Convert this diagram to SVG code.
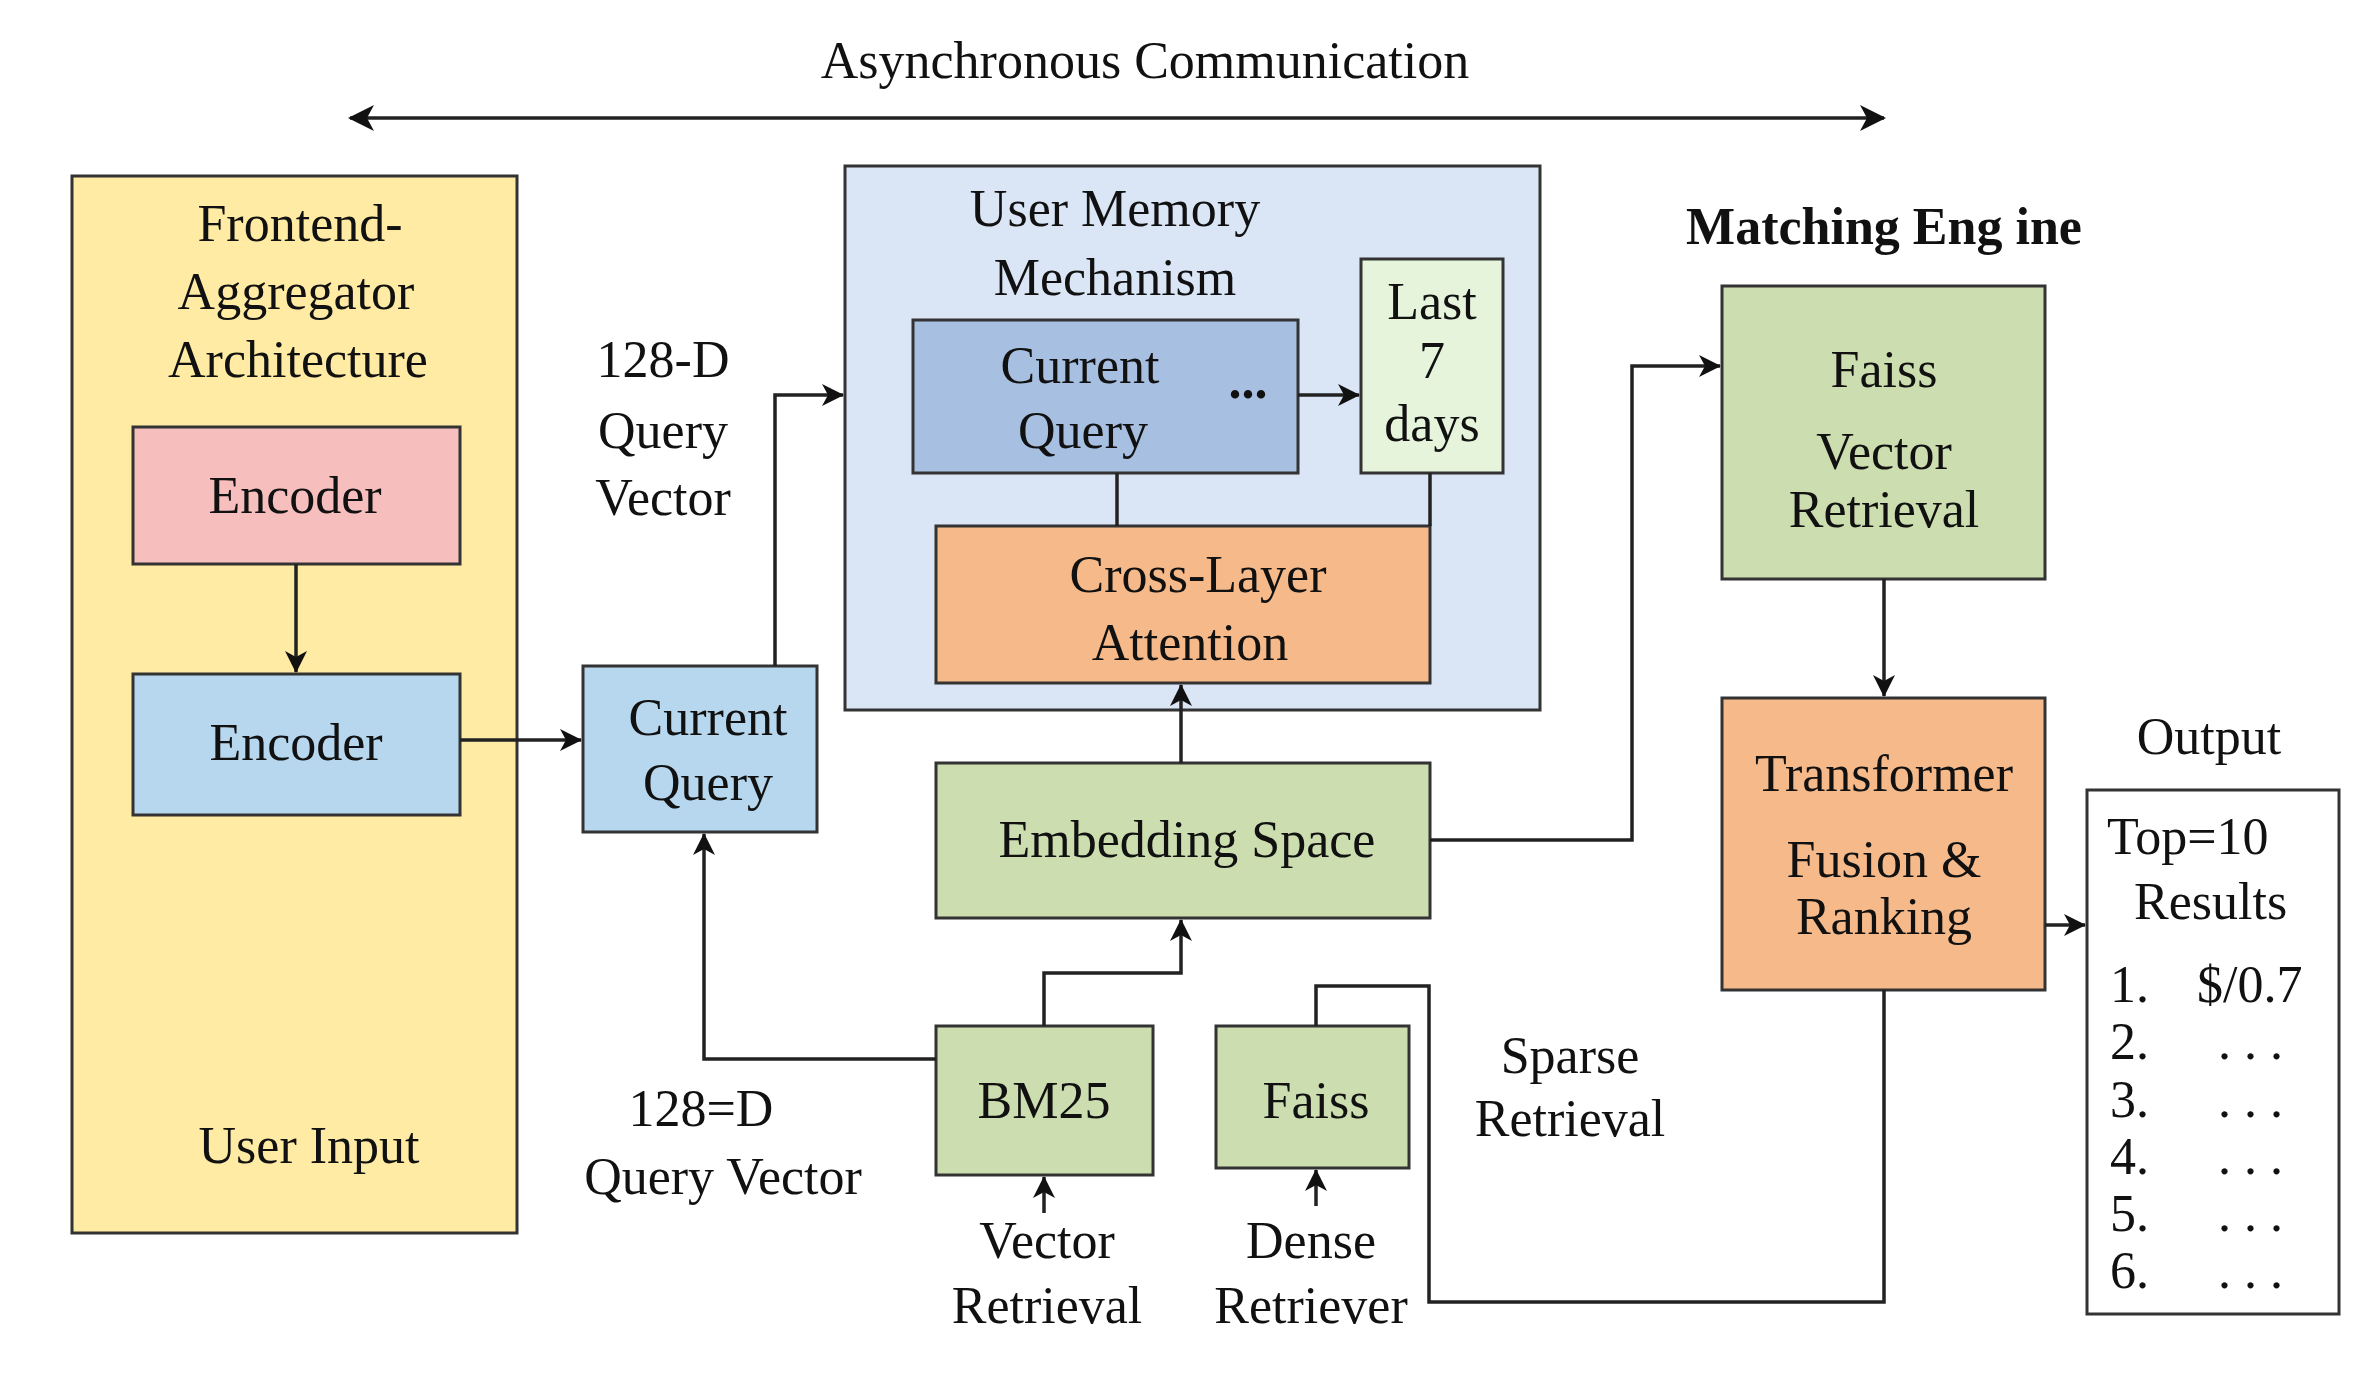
<svg xmlns="http://www.w3.org/2000/svg" width="2363" height="1374" viewBox="0 0 2363 1374">
<defs>
<marker id="ah" markerWidth="10" markerHeight="10" refX="9" refY="5" orient="auto" markerUnits="userSpaceOnUse" viewBox="0 0 10 10"><path d="M0,0 L10,5 L0,10 L3,5 z" fill="#111"/></marker>
<marker id="ab" markerWidth="26" markerHeight="26" refX="24" refY="13" orient="auto-start-reverse" markerUnits="userSpaceOnUse" viewBox="0 0 26 26"><path d="M0,0 L26,13 L0,26 L7,13 z" fill="#111"/></marker>
<marker id="am" markerWidth="22" markerHeight="22" refX="21" refY="11" orient="auto" markerUnits="userSpaceOnUse" viewBox="0 0 22 22"><path d="M0,0 L22,11 L0,22 L6,11 z" fill="#111"/></marker>
</defs>
<style>
text{font-family:"Liberation Serif","Times New Roman",serif;fill:#111;font-size:52px;text-anchor:middle}
.b{stroke:#333;stroke-width:3}
.c{fill:none;stroke:#222;stroke-width:3.5}
</style>
<rect width="2363" height="1374" fill="#fff"/>
<g id="title"><text x="1145" y="78" font-size="54">Asynchronous Communication</text></g>
<g id="frontend">
<rect class="b" x="72" y="176" width="445" height="1057" fill="#FFEBA3"/>
<text x="300" y="241">Frontend-</text><text x="296" y="309">Aggregator</text><text x="298" y="377">Architecture</text>
<text x="309" y="1163">User Input</text>
</g>
<g id="encoder1"><rect class="b" x="133" y="427" width="327" height="137" fill="#F7BEBE"/><text x="295" y="513">Encoder</text></g>
<g id="encoder2"><rect class="b" x="133" y="674" width="327" height="141" fill="#B7D7EE"/><text x="296" y="760">Encoder</text></g>
<g id="currentQuery"><rect class="b" x="583" y="666" width="234" height="166" fill="#B7D7EE"/><text x="708" y="735">Current</text><text x="708" y="800">Query</text></g>
<g id="labels">
<text x="663" y="377">128-D</text><text x="663" y="448">Query</text><text x="663" y="515">Vector</text>
<text x="701" y="1126">128=D</text><text x="723" y="1194">Query Vector</text>
<text x="1047" y="1258">Vector</text><text x="1047" y="1323">Retrieval</text>
<text x="1311" y="1258">Dense</text><text x="1311" y="1323">Retriever</text>
<text x="1570" y="1073">Sparse</text><text x="1570" y="1136">Retrieval</text>
<text x="1884" y="244" font-weight="bold">Matching Eng ine</text>
<text x="2209" y="754">Output</text>
</g>
<g id="userMemory">
<rect class="b" x="845" y="166" width="695" height="544" fill="#DAE5F5"/>
<text x="1115" y="226">User Memory</text><text x="1115" y="295">Mechanism</text>
</g>
<g id="memCurrentQuery"><rect class="b" x="913" y="320" width="385" height="153" fill="#A7BFE0"/><text x="1080" y="383">Current</text><text x="1083" y="448">Query</text><text x="1248" y="398" font-weight="bold">...</text></g>
<g id="last7"><rect class="b" x="1361" y="259" width="142" height="214" fill="#E6F4DC"/><text x="1432" y="319" font-size="46">Last</text><text x="1432" y="378" font-size="46">7</text><text x="1432" y="441" font-size="46">days</text></g>
<g id="crossLayer"><rect class="b" x="936" y="526" width="494" height="157" fill="#F5B98A"/><text x="1198" y="592">Cross-Layer</text><text x="1190" y="660">Attention</text></g>
<g id="embedding"><rect class="b" x="936" y="763" width="494" height="155" fill="#CCDDAF"/><text x="1187" y="857">Embedding Space</text></g>
<g id="bm25"><rect class="b" x="936" y="1026" width="217" height="149" fill="#CCDDAF"/><text x="1044" y="1118">BM25</text></g>
<g id="faissSmall"><rect class="b" x="1216" y="1026" width="193" height="142" fill="#CCDDAF"/><text x="1316" y="1118">Faiss</text></g>
<g id="faissVR"><rect class="b" x="1722" y="286" width="323" height="293" fill="#CCDDAF"/><text x="1884" y="387">Faiss</text><text x="1884" y="469">Vector</text><text x="1884" y="527">Retrieval</text></g>
<g id="transformer"><rect class="b" x="1722" y="698" width="323" height="292" fill="#F5B98A"/><text x="1884" y="791">Transformer</text><text x="1884" y="877">Fusion &amp;</text><text x="1884" y="934">Ranking</text></g>
<g id="output">
<rect class="b" x="2087" y="790" width="252" height="524" fill="#fff"/>
<text x="2107" y="854" style="text-anchor:start">Top=10</text><text x="2134" y="919" style="text-anchor:start">Results</text>
<g style="text-anchor:start">
<text x="2110" y="1002" style="text-anchor:start">1.</text><text x="2197" y="1002" style="text-anchor:start">$/0.7</text>
<text x="2110" y="1059" style="text-anchor:start">2.</text><text x="2218" y="1059" style="text-anchor:start">. . .</text>
<text x="2110" y="1117" style="text-anchor:start">3.</text><text x="2218" y="1117" style="text-anchor:start">. . .</text>
<text x="2110" y="1174" style="text-anchor:start">4.</text><text x="2218" y="1174" style="text-anchor:start">. . .</text>
<text x="2110" y="1231" style="text-anchor:start">5.</text><text x="2218" y="1231" style="text-anchor:start">. . .</text>
<text x="2110" y="1288" style="text-anchor:start">6.</text><text x="2218" y="1288" style="text-anchor:start">. . .</text>
</g>
</g>
<g id="connectors">
<path class="c" d="M350,118 H1884" marker-start="url(#ab)" marker-end="url(#ab)"/>
<path class="c" d="M296,564 V672" marker-end="url(#am)"/>
<path class="c" d="M460,740 H581" marker-end="url(#am)"/>
<path class="c" d="M775,666 V395 H843" marker-end="url(#am)"/>
<path class="c" d="M1298,395 H1359" marker-end="url(#am)"/>
<path class="c" d="M1117,473 V526"/>
<path class="c" d="M1430,473 V526"/>
<path class="c" d="M1181,763 V685" marker-end="url(#am)"/>
<path class="c" d="M1430,840 H1632 V366 H1720" marker-end="url(#am)"/>
<path class="c" d="M1884,579 V696" marker-end="url(#am)"/>
<path class="c" d="M2045,925 H2085" marker-end="url(#am)"/>
<path class="c" d="M1044,1026 V973 H1181 V920" marker-end="url(#am)"/>
<path class="c" d="M936,1059 H704 V834" marker-end="url(#am)"/>
<path class="c" d="M1044,1213 V1177" marker-end="url(#am)"/>
<path class="c" d="M1316,1206 V1170" marker-end="url(#am)"/>
<path class="c" d="M1316,1026 V986 H1429 V1302 H1884 V990"/>
</g>
</svg>
